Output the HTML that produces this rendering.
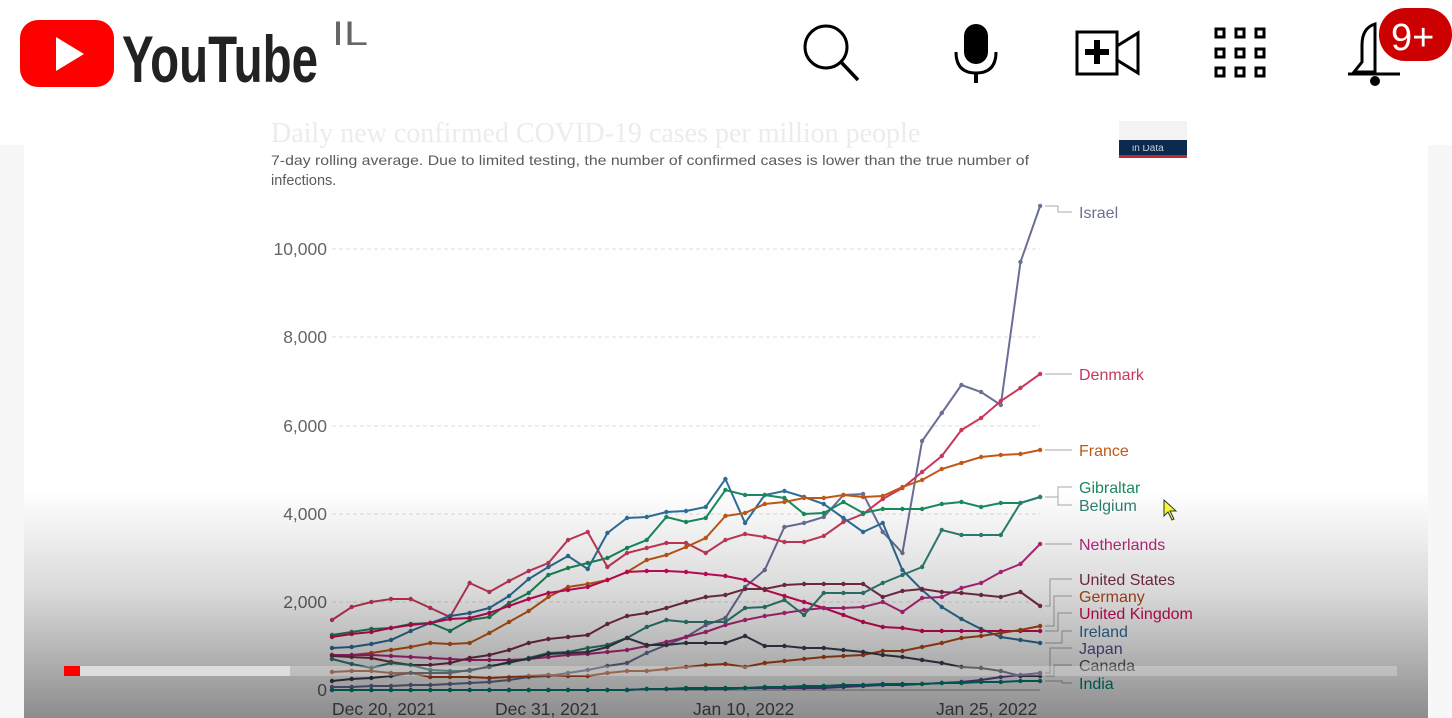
<!DOCTYPE html>
<html><head><meta charset="utf-8"><style>
html,body{margin:0;padding:0;width:1452px;height:718px;overflow:hidden;background:#fff;font-family:"Liberation Sans",sans-serif;}
.abs{position:absolute;}
</style></head><body>
<div class="abs" style="left:0;top:145px;width:24px;height:573px;background:#f7f7f7"></div>
<div class="abs" style="left:1428px;top:145px;width:24px;height:573px;background:#f7f7f7"></div>
<svg class="abs" style="left:0;top:0" width="1452" height="718" xmlns="http://www.w3.org/2000/svg" id="chart">
<text x="271" y="142" font-family="Liberation Serif" font-size="28" fill="#ececec">Daily new confirmed COVID-19 cases per million people</text>
<text x="271" y="165" font-size="14" fill="#5b5b5b" textLength="758" lengthAdjust="spacingAndGlyphs">7-day rolling average. Due to limited testing, the number of confirmed cases is lower than the true number of</text>
<text x="271" y="185" font-size="14.5" fill="#5b5b5b">infections.</text>
<rect x="1119" y="121" width="68" height="37" fill="#f2f2f2"/>
<rect x="1119" y="145" width="68" height="10" fill="#0b2a4f"/>
<rect x="1119" y="155" width="68" height="3" fill="#c0292e"/>
<text x="1132" y="151" font-size="10" fill="#ccd">in Data</text>
<g font-size="17.5" fill="#666" text-anchor="end">
<text x="327" y="696">0</text><text x="327" y="608">2,000</text><text x="327" y="520">4,000</text>
<text x="327" y="432">6,000</text><text x="327" y="343">8,000</text><text x="327" y="255">10,000</text></g>
<g stroke="#ddd" stroke-dasharray="4,3">
<line x1="332" x2="1040" y1="602" y2="602"/><line x1="332" x2="1040" y1="514" y2="514"/>
<line x1="332" x2="1040" y1="426" y2="426"/><line x1="332" x2="1040" y1="337" y2="337"/><line x1="332" x2="1040" y1="249" y2="249"/></g>
<line x1="332" x2="1040" y1="690" y2="690" stroke="#999"/>
<g font-size="17.5" fill="#555">
<text x="332" y="715">Dec 20, 2021</text><text x="495" y="715">Dec 31, 2021</text>
<text x="693" y="715">Jan 10, 2022</text><text x="936" y="715">Jan 25, 2022</text></g>
<g id="series" fill="none" stroke-width="2"></g>
<g font-size="16">
<text x="1079" y="218" fill="#6b6f95">Israel</text>
<text x="1079" y="380" fill="#c8385a">Denmark</text>
<text x="1079" y="456" fill="#c05917">France</text>
<text x="1079" y="493" fill="#1a8a5e">Gibraltar</text>
<text x="1079" y="511" fill="#2f7f73">Belgium</text>
<text x="1079" y="550" fill="#b8287f">Netherlands</text>
<text x="1079" y="585" fill="#7a2e49">United States</text>
<text x="1079" y="602" fill="#b0481b">Germany</text>
<text x="1079" y="619" fill="#cf0a5a">United Kingdom</text>
<text x="1079" y="637" fill="#2c6f9a">Ireland</text>
<text x="1079" y="654" fill="#5c4a94">Japan</text>
<text x="1079" y="671" fill="#555">Canada</text>
<text x="1079" y="689" fill="#00847e">India</text></g>
<g stroke="#aaa" fill="none" stroke-width="1">
<polyline points="1045,206 1058,206 1058,212 1072,212"/>
<line x1="1045" y1="374" x2="1072" y2="374"/><line x1="1045" y1="450" x2="1072" y2="450"/>
<polyline points="1045,497 1058,497 1058,487 1072,487"/><polyline points="1045,497 1058,497 1058,505 1072,505"/>
<line x1="1045" y1="544" x2="1072" y2="544"/>
<polyline points="1045,606 1050,606 1050,579 1072,579"/><polyline points="1045,626 1054,626 1054,596 1072,596"/>
<polyline points="1045,631 1058,631 1058,613 1072,613"/><polyline points="1045,643 1062,643 1062,631 1072,631"/>
<polyline points="1045,673 1050,673 1050,648 1072,648"/><polyline points="1045,676 1054,676 1054,665 1072,665"/>
<polyline points="1045,681 1062,681 1062,683 1072,683"/></g>
<polygon points="1164,500 1164,516 1168,512 1172,520 1174,519 1170,511 1176,511" fill="#ffff30" stroke="#333" stroke-width="1"/>
<defs><linearGradient id="g" x1="0" y1="0" x2="0" y2="1">
<stop offset="0" stop-color="#000" stop-opacity="0"/><stop offset="0.45" stop-color="#000" stop-opacity="0.15"/><stop offset="1" stop-color="#000" stop-opacity="0.45"/></linearGradient></defs>
<rect x="24" y="490" width="1404" height="228" fill="url(#g)"/>
<rect x="64" y="666" width="1333" height="10" fill="#fff" fill-opacity="0.25"/>
<rect x="64" y="666" width="226" height="10" fill="#ddd"/>
<rect x="64" y="666" width="16" height="10" fill="#f00"/>
<rect x="0" y="0" width="1452" height="145" fill="#fff" fill-opacity="0.9"/>
<text x="271" y="142" font-family="Liberation Serif" font-size="28" fill="#ececec">Daily new confirmed COVID-19 cases per million people</text>
<rect x="1119" y="121" width="68" height="24" fill="#f3f3f3"/>
<rect x="1119" y="140" width="68" height="5" fill="#0b2a4f"/>
<rect x="20" y="20" width="94" height="67" rx="18" fill="#f00"/>
<polygon points="56,37 56,71 84,54" fill="#fff"/>
<text x="122" y="82" font-family="Liberation Sans Narrow,Liberation Sans" font-weight="bold" font-size="66" fill="#222" textLength="196" lengthAdjust="spacingAndGlyphs">YouTube</text>
<text x="332" y="45" font-size="34" fill="#666" textLength="36" lengthAdjust="spacingAndGlyphs">IL</text>
<circle cx="826" cy="47" r="21" fill="none" stroke="#000" stroke-width="3"/>
<line x1="841" y1="62" x2="858" y2="80" stroke="#000" stroke-width="3.5"/>
<rect x="964" y="24" width="24" height="40" rx="12" fill="#000"/>
<path d="M956,52 Q956,73 976,73 Q996,73 996,52" fill="none" stroke="#000" stroke-width="3"/>
<line x1="976" y1="73" x2="976" y2="83" stroke="#000" stroke-width="4"/>
<rect x="1077" y="32" width="40" height="42" fill="none" stroke="#000" stroke-width="3"/>
<polygon points="1117,46 1138,33 1138,73 1117,60" fill="none" stroke="#000" stroke-width="3"/>
<rect x="1094" y="40" width="6" height="24" fill="#000"/><rect x="1085" y="49" width="24" height="6" fill="#000"/>
<g fill="none" stroke="#000" stroke-width="3">
<rect x="1216" y="29" width="8" height="8"/><rect x="1236" y="29" width="8" height="8"/><rect x="1256" y="29" width="8" height="8"/>
<rect x="1216" y="49" width="8" height="8"/><rect x="1236" y="49" width="8" height="8"/><rect x="1256" y="49" width="8" height="8"/>
<rect x="1216" y="68" width="8" height="8"/><rect x="1236" y="68" width="8" height="8"/><rect x="1256" y="68" width="8" height="8"/></g>
<path d="M1354,72 L1362,62 L1362,45 Q1362,28 1375,24 L1375,72 Z M1348,74 L1400,74" fill="none" stroke="#000" stroke-width="3"/>
<circle cx="1375" cy="81" r="5" fill="#000"/>
<rect x="1379" y="8" width="73" height="53" rx="26" fill="#cc0000"/>
<text x="1391" y="50" font-size="38" fill="#fff">9+</text>
</svg>
<script>
var S=[
["#6b6f95",[687,687,686,686,685,685,684,683,682,680,677,676,673,670,666,663,653,645,637,625,618,587,570,527,523,517,495,494,532,553,441,413,385,392,405,262,206]],
["#c8385a",[620,607,602,599,599,608,617,583,592,581,571,563,540,532,567,553,548,543,543,553,540,534,537,542,542,536,522,514,499,488,472,456,430,418,401,388,374]],
["#2c6f9a",[648,647,644,640,631,623,616,613,608,596,579,567,556,569,533,518,517,512,511,507,479,523,495,491,497,504,518,532,523,570,590,607,619,629,637,640,643]],
["#1a8a5e",[635,632,629,628,624,623,631,620,617,603,593,575,568,563,558,548,540,517,522,518,490,495,495,498,514,513,502,513,509,509,509,504,502,507,503,503,497]],
["#c05917",[655,655,653,650,647,643,644,643,633,622,611,597,587,584,580,572,560,555,547,538,516,513,504,502,498,498,495,497,496,487,480,469,463,457,455,454,450]],
["#cf0a5a",[637,634,632,628,625,623,619,618,613,606,599,593,590,587,580,572,571,571,572,574,576,580,590,596,602,608,615,622,627,628,631,631,631,631,631,631,631]],
["#b8287f",[655,655,655,656,657,658,659,660,660,660,659,657,655,654,652,650,646,642,637,632,625,620,616,613,610,608,608,607,602,612,598,597,588,583,572,564,544]],
["#7a2e49",[656,657,658,662,665,665,663,658,655,650,643,639,637,635,624,616,613,608,602,597,595,589,589,585,584,584,584,584,597,591,589,592,593,595,597,592,606]],
["#2f7f73",[659,664,668,663,665,670,671,671,666,663,658,653,652,648,645,638,627,620,622,622,622,608,607,600,615,593,593,593,583,575,567,530,535,535,535,503,497]],
["#b0481b",[672,671,671,673,673,677,677,677,678,677,676,675,676,676,673,671,671,669,667,665,664,667,663,661,659,657,656,655,651,651,647,643,638,636,633,630,626]],
["#38404f",[681,679,678,676,673,673,673,670,667,662,659,654,653,652,647,638,645,645,643,643,643,636,646,646,648,648,650,652,655,657,660,663,667,668,671,676,676]],
["#5c4a94",[690,690,690,690,690,690,690,690,690,690,690,690,690,690,690,690,689,689,689,689,689,688,688,688,688,688,687,686,685,685,684,683,682,680,677,675,673]],
["#00847e",[690,690,690,690,690,690,690,690,690,690,690,690,690,690,690,690,689,689,688,688,688,688,687,687,686,686,685,685,684,684,684,683,683,682,682,681,681]]
];
var g=document.getElementById("series"),ns="http://www.w3.org/2000/svg";
S.forEach(function(s){var p=s[1].map(function(y,i){return (332+i*19.67).toFixed(1)+","+y}).join(" ");
var l=document.createElementNS(ns,"polyline");l.setAttribute("points",p);l.setAttribute("stroke",s[0]);g.appendChild(l);
s[1].forEach(function(y,i){var c=document.createElementNS(ns,"circle");c.setAttribute("cx",332+i*19.67);c.setAttribute("cy",y);c.setAttribute("r",2.2);c.setAttribute("fill",s[0]);g.appendChild(c);});});
</script>
</body></html>
